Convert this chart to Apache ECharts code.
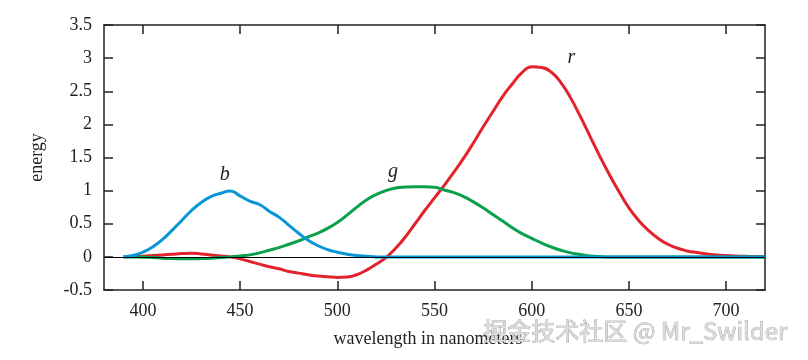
<!DOCTYPE html>
<html>
<head>
<meta charset="utf-8">
<script src="https://cdn.jsdelivr.net/npm/echarts@6/dist/echarts.min.js"></script>
<style>html,body{margin:0;padding:0;background:#fff}#c{width:808px;height:360px}</style>
</head>
<body>
<div id="c"></div>
<script>
const wavelengths = [390,395,400,405,410,415,420,425,430,435,440,445,450,455,460,465,470,475,480,485,490,495,500,505,510,515,520,525,530,535,540,545,550,555,560,565,570,575,580,585,590,595,600,605,610,615,620,625,630,635,640,645,650,655,660,665,670,675,680,685,690,695,700,705,710,715,720];
const rValues = [0,0.005,0.01,0.02,0.03,0.04,0.05,0.055,0.045,0.03,0.015,0,-0.03,-0.07,-0.11,-0.15,-0.18,-0.22,-0.245,-0.27,-0.29,-0.30,-0.31,-0.305,-0.27,-0.2,-0.11,-0.01,0.13,0.3,0.5,0.7,0.89,1.08,1.28,1.49,1.72,1.96,2.19,2.42,2.61,2.78,2.87,2.86,2.79,2.63,2.40,2.12,1.82,1.52,1.24,0.98,0.74,0.55,0.40,0.28,0.19,0.13,0.09,0.065,0.045,0.03,0.02,0.013,0.008,0.004,0.002];
const gValues = [0,0,-0.005,-0.01,-0.02,-0.025,-0.03,-0.03,-0.025,-0.02,-0.01,0,0.015,0.03,0.06,0.10,0.14,0.19,0.24,0.30,0.36,0.43,0.52,0.63,0.75,0.86,0.94,1.00,1.04,1.055,1.06,1.06,1.05,1.01,0.97,0.91,0.83,0.74,0.64,0.54,0.44,0.35,0.28,0.21,0.15,0.10,0.06,0.035,0.015,0.005,0,0,0,0,0,0,0,0,0,0,0,0,0,0,0,0,0];
const bValues = [0,0.02,0.07,0.15,0.26,0.40,0.55,0.70,0.82,0.91,0.96,0.995,0.92,0.84,0.79,0.69,0.60,0.48,0.36,0.25,0.17,0.11,0.07,0.04,0.02,0.01,0,0,0,0,0,0,0,0,0,0,0,0,0,0,0,0,0,0,0,0,0,0,0,0,0,0,0,0,0,0,0,0,0,0,0,0,0,0,0,0,0];
const xTickLabels = [400,450,500,550,600,650,700];
const curveNames = ['r','g','b'];
const curveLabelPos = [[620.4,3.0],[528.7,1.28],[442.1,1.236]];
const colors = ['#e3232b','#0aa04c','#0a96d6'];

const serif = '"Liberation Serif","DejaVu Serif",serif';
const allValues = [rValues, gValues, bValues];

const series = curveNames.map((n, i) => ({
  name: n,
  type: 'line',
  smooth: 0.5,
  showSymbol: false,
  symbol: 'none',
  lineStyle: {color: colors[i], width: 3},
  data: wavelengths.map((w, k) => [w, allValues[i][k]]),
  z: 3 + (i === 2 ? 1 : 0),
  markPoint: {
    symbol: 'circle',
    symbolSize: 0,
    label: {show: true, position: 'inside', formatter: n, color: '#222', fontFamily: serif, fontStyle: 'italic', fontSize: 20},
    data: [{coord: curveLabelPos[i]}]
  }
}));
series.push({
  type: 'line', data: [], silent: true,
  markLine: {
    symbol: 'none', silent: true, label: {show: false},
    lineStyle: {color: '#000', width: 1, type: 'solid'},
    data: [{yAxis: 0}]
  }
});

const axisColor = '#222';
const tickStyle = {show: true, inside: true, length: 9, lineStyle: {color: axisColor, width: 1.5}};

const chart = echarts.init(document.getElementById('c'), null, {renderer: 'canvas'});
chart.setOption({
  animation: false,
  backgroundColor: '#fff',
  grid: {left: 104, right: 43, top: 25, bottom: 70},
  xAxis: [{
    type: 'value', min: 380, max: 720, position: 'bottom',
    name: 'wavelength in nanometers', nameLocation: 'middle', nameGap: 40,
    nameTextStyle: {fontFamily: serif, fontSize: 18, color: axisColor, padding: [0, 13, 0, 0]},
    axisLine: {show: true, onZero: false, lineStyle: {color: axisColor, width: 1.5}},
    axisTick: Object.assign({customValues: xTickLabels}, tickStyle),
    axisLabel: {show: true, customValues: xTickLabels, margin: 12, fontFamily: serif, fontSize: 18, color: axisColor},
    splitLine: {show: false}
  }, {
    type: 'value', min: 380, max: 720, position: 'top',
    axisLine: {show: true, onZero: false, lineStyle: {color: axisColor, width: 1.5}},
    axisTick: Object.assign({customValues: xTickLabels}, tickStyle),
    axisLabel: {show: false},
    splitLine: {show: false}
  }],
  yAxis: [{
    type: 'value', min: -0.5, max: 3.5, interval: 0.5, position: 'left',
    name: 'energy', nameLocation: 'middle', nameGap: 58, nameRotate: 90,
    nameTextStyle: {fontFamily: serif, fontSize: 18, color: axisColor},
    axisLine: {show: true, onZero: false, lineStyle: {color: axisColor, width: 1.5}},
    axisTick: tickStyle,
    axisLabel: {show: true, margin: 12, fontFamily: serif, fontSize: 18, color: axisColor},
    splitLine: {show: false}
  }, {
    type: 'value', min: -0.5, max: 3.5, interval: 0.5, position: 'right',
    axisLine: {show: true, onZero: false, lineStyle: {color: axisColor, width: 1.5}},
    axisTick: tickStyle,
    axisLabel: {show: false},
    splitLine: {show: false}
  }],
  graphic: [{
    type: 'text', left: 483, top: 319, z: 100,
    style: {
      text: '掘金技术社区 @ Mr_Swilder',
      font: '24px "Noto Sans CJK SC", "Noto Sans", sans-serif',
      fill: '#dcdcdc',
      stroke: '#8a8a8a', lineWidth: 0.6
    }
  }],
  series: series
});
</script>
</body>
</html>
